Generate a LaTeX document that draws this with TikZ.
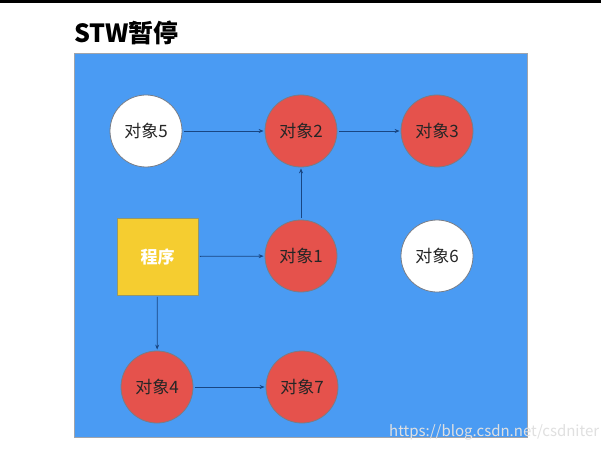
\documentclass[tikz,border=0pt]{standalone}
\usepackage{fontspec}
\setmainfont{Noto Sans CJK SC}
\usetikzlibrary{arrows.meta}
\definecolor{bgblue}{RGB}{74,155,243}
\definecolor{objred}{RGB}{229,82,76}
\definecolor{progyellow}{RGB}{245,205,48}
\definecolor{arrowblue}{RGB}{25,70,130}
\definecolor{edgegray}{RGB}{120,125,135}
\tikzset{
  obj/.style={circle,draw=edgegray,line width=0.8pt,minimum size=72pt,inner sep=0pt,font=\fontsize{17}{17}\selectfont,text=black!85},
  live/.style={obj,fill=objred},
  dead/.style={obj,fill=white},
  prog/.style={rectangle,draw=edgegray!80!yellow,line width=0.8pt,fill=progyellow,minimum width=81pt,minimum height=77pt,inner sep=0pt,font=\fontsize{17}{17}\selectfont\bfseries,text=white},
  ref/.style={draw=arrowblue,line width=0.8pt,-{Stealth[length=5pt,width=4pt]},shorten <=1.5pt,shorten >=1pt}
}
\begin{document}
\begin{tikzpicture}[x=1pt,y=-1pt]
\useasboundingbox (0,0) rectangle (601,454);
\fill[white] (0,0) rectangle (601,454);
\fill[black] (0,0) rectangle (601,3);
\node[anchor=west,inner sep=0pt,font=\fontsize{25}{25}\selectfont\bfseries] (title) at (74,33) {STW暂停};
\node[draw=edgegray!70,line width=0.8pt,fill=bgblue,minimum width=453pt,minimum height=384pt,inner sep=0pt,anchor=north west] (bg) at (74,53) {};
\node[dead] (o5) at (146,131) {对象5};
\node[live] (o2) at (301,131) {对象2};
\node[live] (o3) at (437,131) {对象3};
\node[prog] (p) at (157.5,256.5) {程序};
\node[live] (o1) at (301,256) {对象1};
\node[dead] (o6) at (437,256) {对象6};
\node[live] (o4) at (157,387) {对象4};
\node[live] (o7) at (302,387) {对象7};
\draw[ref] (o5) -- (o2);
\draw[ref] (o2) -- (o3);
\draw[ref] (p) -- (o1);
\draw[ref] (o1) -- (o2);
\draw[ref] (p) -- (o4);
\draw[ref] (o4) -- (o7);
\node[anchor=west,inner sep=0pt,font=\fontsize{15}{15}\selectfont,text=black!12] (wm) at (389,432) {https://blog.csdn.net/csdniter};
\end{tikzpicture}
\end{document}
